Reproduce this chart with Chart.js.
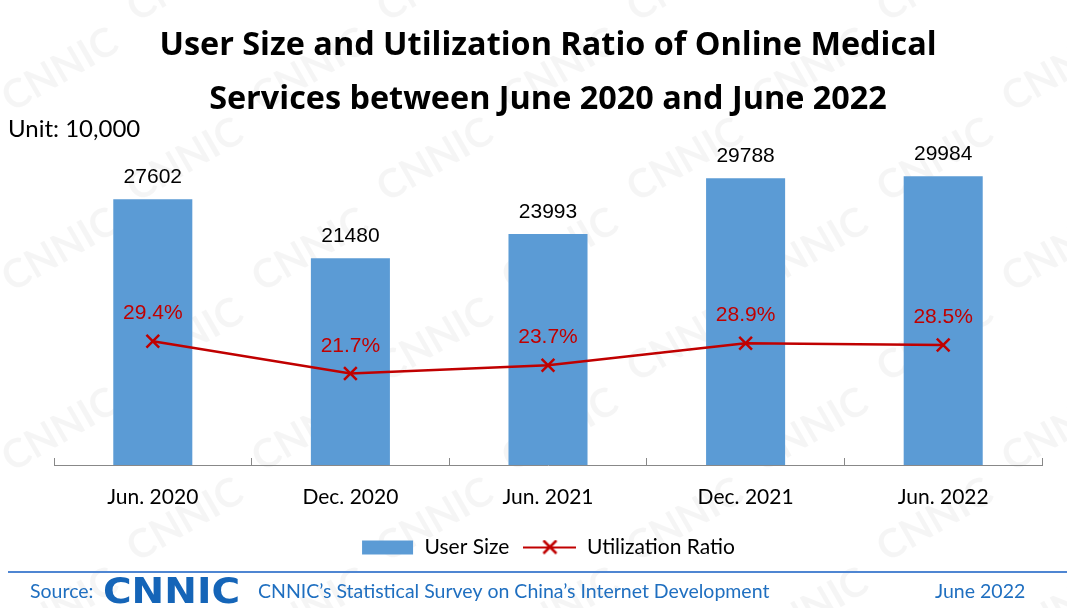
<!DOCTYPE html>
<html>
<head>
<meta charset="utf-8">
<script src="https://cdn.jsdelivr.net/npm/chart.js@4/dist/chart.umd.min.js"></script>
<style>
  html, body { margin: 0; padding: 0; background: #fff; }
  #chart { display: block; }
</style>
</head>
<body>
<canvas id="chart" width="1067" height="608"></canvas>
<script>
const categories = ['Jun. 2020', 'Dec. 2020', 'Jun. 2021', 'Dec. 2021', 'Jun. 2022'];
const userSize = [27602, 21480, 23993, 29788, 29984];
const utilizationRatio = [29.4, 21.7, 23.7, 28.9, 28.5];

const BLUE = '#5b9bd5';
const RED = '#c00000';
const FOOT_BLUE = '#1f6fc0';

// legend icons: blue box and red line with a cross
function legendIcon(kind) {
  const c = document.createElement('canvas');
  c.width = 53; c.height = 16;
  const g = c.getContext('2d');
  if (kind === 'bar') {
    g.fillStyle = BLUE;
    g.fillRect(1, 1, 51, 14);
  } else {
    g.strokeStyle = RED;
    g.lineWidth = 2;
    g.beginPath(); g.moveTo(0, 8); g.lineTo(53, 8); g.stroke();
    g.lineWidth = 2.5;
    g.beginPath();
    g.moveTo(20, 1); g.lineTo(33, 14);
    g.moveTo(33, 1); g.lineTo(20, 14);
    g.stroke();
  }
  return c;
}
const icons = [legendIcon('bar'), legendIcon('line')];

// faint repeated CNNIC mark behind everything
const watermark = {
  id: 'watermark',
  beforeDraw(chart) {
    const ctx = chart.ctx;
    ctx.save();
    ctx.fillStyle = 'rgba(0,0,0,0.04)';
    ctx.font = 'bold 40px Lato';
    ctx.textAlign = 'center';
    ctx.textBaseline = 'middle';
    for (let row = -1; row < 8; row++) {
      for (let col = -1; col < 6; col++) {
        const x = col * 250 + (row % 2 ? 125 : 0) + 60;
        const y = row * 90 + 70;
        ctx.save();
        ctx.translate(x, y);
        ctx.rotate(-Math.PI / 6);
        ctx.fillText('CNNIC', 0, 0);
        ctx.restore();
      }
    }
    ctx.restore();
  }
};

// value labels, unit note and source footer
const extras = {
  id: 'extras',
  afterDatasetsDraw(chart) {
    const ctx = chart.ctx;
    ctx.save();
    ctx.textAlign = 'center';
    ctx.textBaseline = 'alphabetic';
    ctx.font = '21px "Liberation Sans"';
    ctx.fillStyle = '#000';
    chart.getDatasetMeta(0).data.forEach((el, i) => {
      ctx.fillText(String(userSize[i]), el.x, el.y - 16);
    });
    ctx.fillStyle = RED;
    chart.getDatasetMeta(1).data.forEach((el, i) => {
      ctx.fillText(utilizationRatio[i].toFixed(1) + '%', el.x, el.y - 22);
    });
    ctx.restore();
  },
  afterDraw(chart) {
    const ctx = chart.ctx;
    ctx.save();
    ctx.fillStyle = '#000';
    ctx.font = '24px Lato';
    ctx.textAlign = 'left';
    ctx.textBaseline = 'alphabetic';
    ctx.fillText('Unit: 10,000', 8, 137);

    ctx.strokeStyle = '#4f86d2';
    ctx.lineWidth = 2;
    ctx.beginPath(); ctx.moveTo(8, 572); ctx.lineTo(1067, 572); ctx.stroke();

    ctx.fillStyle = FOOT_BLUE;
    ctx.font = '19.5px Lato';
    ctx.fillText('Source:', 30, 598);
    ctx.fillText('CNNIC\u2019s Statistical Survey on China\u2019s Internet Development', 258, 598);
    ctx.fillText('June 2022', 935, 598);

    // logo wordmark
    ctx.font = 'bold 36px "DejaVu Sans"';
    const w = ctx.measureText('CNNIC').width;
    ctx.save();
    ctx.translate(103, 603);
    ctx.scale(137 / w, 1);
    ctx.fillStyle = '#1565b8';
    ctx.fillText('CNNIC', 0, 0);
    ctx.restore();
    ctx.restore();
  }
};

new Chart(document.getElementById('chart'), {
  data: {
    labels: categories,
    datasets: [
      {
        type: 'bar',
        label: 'User Size',
        data: userSize,
        backgroundColor: BLUE,
        barPercentage: 0.4,
        categoryPercentage: 1.0,
        yAxisID: 'y',
        order: 1
      },
      {
        type: 'line',
        label: 'Utilization Ratio',
        data: utilizationRatio,
        borderColor: RED,
        backgroundColor: RED,
        borderWidth: 2.5,
        pointStyle: 'crossRot',
        pointRadius: 9,
        pointBorderWidth: 2.5,
        tension: 0,
        yAxisID: 'y2',
        order: 0
      }
    ]
  },
  options: {
    responsive: false,
    animation: false,
    layout: { padding: { left: 54, right: 25, bottom: 40 } },
    scales: {
      x: {
        grid: { drawOnChartArea: false, tickLength: -7, color: '#888', offset: true },
        border: { color: '#888', width: 1 },
        ticks: { color: '#000', font: { family: 'Lato', size: 21 }, padding: 27 },
        afterFit(scale) { scale.height = 58; }
      },
      y: { display: false, min: 0, max: 35000 },
      y2: { display: false, min: 0, max: 80 }
    },
    plugins: {
      title: {
        display: true,
        text: ['User Size and Utilization Ratio of Online Medical', 'Services between June 2020 and June 2022'],
        color: '#000',
        font: { family: 'Open Sans', size: 32.4, weight: 'bold', lineHeight: 1.667 },
        padding: { top: 19, bottom: 1 }
      },
      legend: {
        position: 'bottom',
        labels: {
          color: '#000',
          font: { family: 'Lato', size: 21 },
          usePointStyle: true,
          pointStyleWidth: 53,
          padding: 14,
          generateLabels(chart) {
            const items = Chart.defaults.plugins.legend.labels.generateLabels(chart);
            items.sort((a, b) => a.datasetIndex - b.datasetIndex);
            items.forEach(it => { it.pointStyle = icons[it.datasetIndex]; });
            return items;
          }
        }
      },
      tooltip: { enabled: false }
    }
  },
  plugins: [watermark, extras]
});
</script>
</body>
</html>
